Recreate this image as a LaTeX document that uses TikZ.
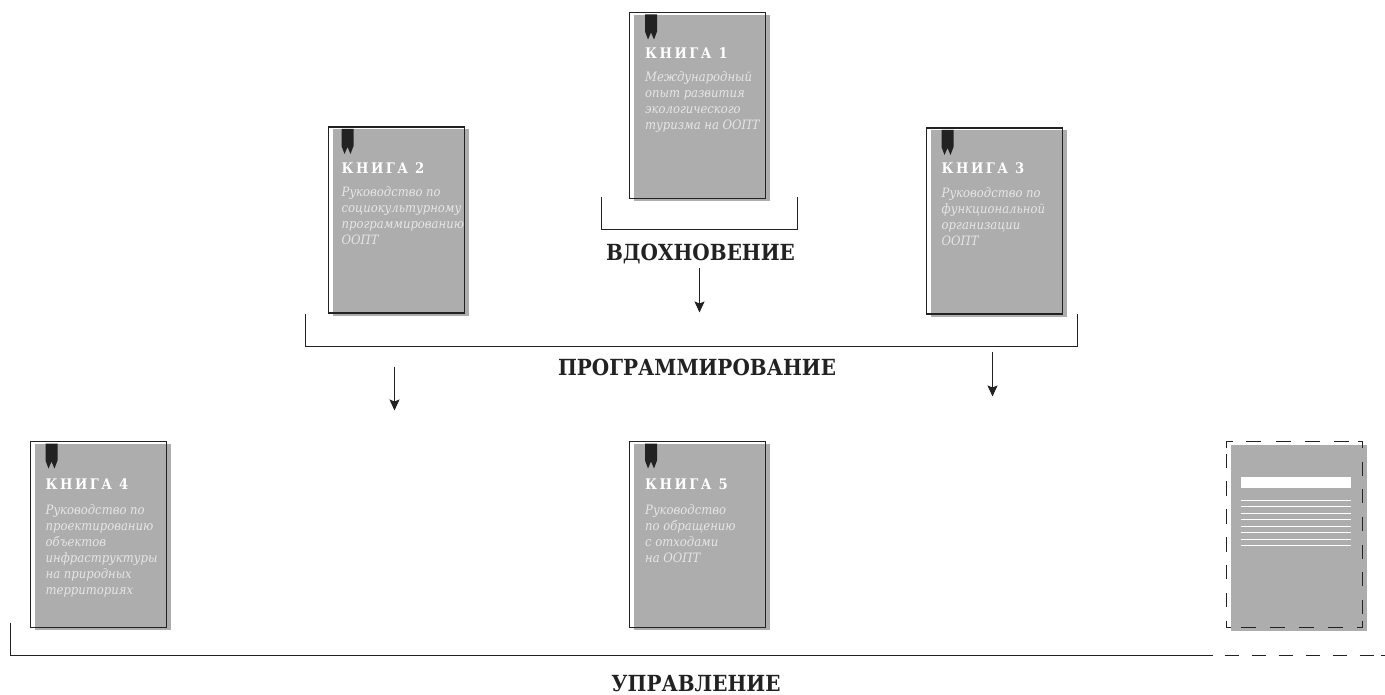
\documentclass[tikz,border=0pt]{standalone}
\usepackage{fontspec}
\setmainfont{DejaVu Serif Condensed}
\usetikzlibrary{arrows.meta}
\definecolor{ink}{HTML}{222222}
\definecolor{pagegray}{HTML}{ADADAD}
\definecolor{sub}{HTML}{E6E6E6}
\tikzset{
 x=1pt,y=-1pt,
 pagefill/.style={fill=pagegray,draw=none,minimum width=136pt,minimum height=186pt,inner sep=0,outer sep=0,anchor=north west},
 outline/.style={draw=ink,line width=1.15pt,minimum width=136pt,minimum height=186pt,inner sep=0,outer sep=0,anchor=north west},
 ghostoutline/.style={minimum width=136pt,minimum height=186pt,inner sep=0,outer sep=0,anchor=north west},
 marker/.style={fill=ink,draw=none},
 booktitle/.style={text=white,anchor=base west,inner sep=0,font=\fontsize{14.6}{15}\selectfont\bfseries\addfontfeature{LetterSpace=17}},
 booksub/.style={text=sub,anchor=north west,inner sep=0,align=left,font=\fontsize{12.9}{16}\selectfont\itshape},
 heading/.style={text=ink,anchor=base,inner sep=0,font=\fontsize{22.2}{24}\selectfont\bfseries},
 rule/.style={draw=ink,line width=1.15pt},
 flow/.style={draw=ink,line width=1.15pt,-{Stealth[length=11pt,width=10pt,inset=2pt]}},
 whitebar/.style={fill=white,draw=none},
 whiteline/.style={draw=white,line width=1pt},
}
% name, x, y, number, text, text x offset, subtitle y offset, title y offset
\newcommand{\kniga}[8]{%
 \node[pagefill] (#1g) at (#2+4,#3+2.5) {};
 \node[outline] (#1) at (#2,#3) {};
 \fill[marker] (#2+#6,#3+2) -- (#2+#6+12,#3+2) -- (#2+#6+12,#3+19) -- (#2+#6+9,#3+27) -- (#2+#6+6,#3+20) -- (#2+#6+3,#3+27) -- (#2+#6,#3+19) -- cycle;
 \node[booktitle] (#1t) at (#2+#6,#3+#8) {КНИГА #4};
 \node[booksub] (#1s) at (#2+#6,#3+#7) {#5};
}
\begin{document}
\begin{tikzpicture}
\useasboundingbox (0,0) rectangle (1385,695);
\begin{scope}[xshift=-0.5pt,yshift=0.5pt]
\kniga{b1}{630}{13}{1}{Международный\\опыт развития\\экологического\\туризма на ООПТ}{15.5}{59}{46}
\kniga{b2}{329}{127.5}{2}{Руководство по\\социокультурному\\программированию\\ООПТ}{13}{59}{46.5}
\kniga{b3}{927}{128.5}{3}{Руководство по\\функциональной\\организации\\ООПТ}{15}{59}{45.5}
\kniga{b4}{31}{442}{4}{Руководство по\\проектированию\\объектов\\инфраструктуры\\на природных\\территориях}{15}{62.5}{47.5}
\kniga{b5}{630}{442}{5}{Руководство\\по обращению\\с отходами\\на ООПТ}{15.5}{62.5}{47.5}
% blank book
\node[pagefill] (b6g) at (1231,445) {};
\node[ghostoutline] (b6) at (1227,442) {};
\fill[whitebar] (1241,477) rectangle (1351,488);
\foreach \yy in {501,506.7,513.7,519.5,526.5,532.5,539.5,545.5}
  \draw[whiteline] (1241,\yy) -- (1351,\yy);
\draw[rule] (1227,448) -- (1227,442) -- (1233,442);
\draw[rule] (1358,442) -- (1363,442) -- (1363,448);
\draw[rule] (1363,621) -- (1363,628) -- (1357,628);
\draw[rule] (1227,621) -- (1227,628) -- (1231,628);
\draw[rule,dash pattern=on 15pt off 14.3pt] (1246.7,442) -- (1351,442);
\draw[rule,dash pattern=on 15pt off 14pt] (1241,628) -- (1344,628);
\draw[rule,dash pattern=on 14.3pt off 13.6pt] (1227,454) -- (1227,608);
\draw[rule,dash pattern=on 14pt off 13.7pt] (1363,462) -- (1363,614);
% brackets
\coordinate (c1a) at (602,198); \coordinate (c1b) at (602,230); \coordinate (c1c) at (798,230); \coordinate (c1d) at (798,198);
\draw[rule] (c1a) -- (c1b) -- (c1c) -- (c1d);
\node[heading] (h1) at (701,261.5) {ВДОХНОВЕНИЕ};
\coordinate (c2a) at (306,314); \coordinate (c2b) at (306,347); \coordinate (c2c) at (1078,347); \coordinate (c2d) at (1078,314);
\draw[rule] (c2a) -- (c2b) -- (c2c) -- (c2d);
\node[heading] (h2) at (697.5,375.5) {ПРОГРАММИРОВАНИЕ};
\coordinate (c3a) at (11,623); \coordinate (c3b) at (11,656); \coordinate (c3c) at (1213,656); \coordinate (c3d) at (1375,656);
\coordinate (c3e) at (1381,656); \coordinate (c3f) at (1386,656);
\draw[rule] (c3a) -- (c3b) -- (c3c);
\draw[rule,dash pattern=on 14pt off 13pt] (c3c)++(12,0) -- (c3d);
\draw[rule] (c3e) -- (c3f);
\node[heading] (h3) at (696.5,692) {УПРАВЛЕНИЕ};
% arrows
\coordinate (a1s) at (700,269); \coordinate (a1e) at (700,313);
\coordinate (a2s) at (395,367); \coordinate (a2e) at (395,411);
\coordinate (a3s) at (993,352); \coordinate (a3e) at (993,397);
\draw[flow] (a1s) -- (a1e);
\draw[flow] (a2s) -- (a2e);
\draw[flow] (a3s) -- (a3e);
\end{scope}
\end{tikzpicture}
\end{document}
